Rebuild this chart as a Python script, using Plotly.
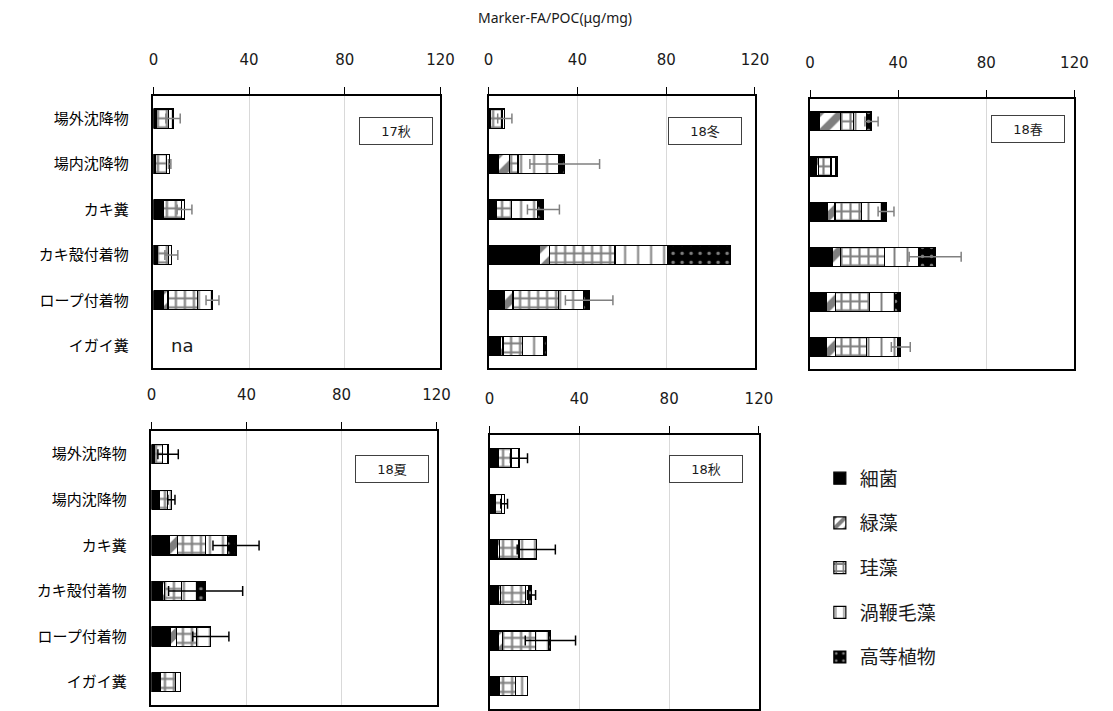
import plotly.graph_objects as go

# Sample categories (rows of each panel, top to bottom)
categories = ["場外沈降物", "場内沈降物", "カキ糞", "カキ殻付着物", "ロープ付着物", "イガイ糞"]
components = ["細菌", "緑藻", "珪藻", "渦鞭毛藻", "高等植物"]
seasons = ["17秋", "18冬", "18春", "18夏", "18秋"]
tick_values = [0, 40, 80, 120]

# Marker fatty acids per POC (µg/mg); None = not analysed
bact_17aut = [1.0, 1.0, 4.0, 1.8, 4.1, None]
green_17aut = [0.2, 0.0, 0.2, 0.0, 2.0, None]
diatom_17aut = [5.0, 4.5, 7.5, 4.5, 12.4, None]
dino_17aut = [2.0, 1.3, 1.3, 1.2, 6.0, None]
plant_17aut = [0.0, 0.0, 0.0, 0.0, 0.2, None]
sd_17aut = [3.0, 0.5, 3.1, 2.7, 2.7, None]

bact_18win = [1.0, 4.6, 3.2, 23.1, 7.0, 5.1]
green_18win = [0.0, 4.9, 0.5, 4.2, 4.0, 1.4]
diatom_18win = [5.0, 3.7, 6.6, 29.6, 20.6, 8.9]
dino_18win = [1.3, 18.4, 11.7, 23.6, 11.1, 9.3]
plant_18win = [0.0, 2.7, 2.7, 28.3, 2.6, 1.3]
sd_18win = [3.2, 15.7, 7.2, None, 10.7, None]

bact_18spr = [4.1, 3.0, 7.9, 10.1, 7.4, 7.4]
green_18spr = [9.7, 1.0, 3.4, 3.7, 4.2, 4.2]
diatom_18spr = [5.9, 5.5, 12.1, 20.0, 15.5, 14.0]
dino_18spr = [5.9, 2.0, 9.2, 15.5, 11.1, 14.1]
plant_18spr = [2.3, 0.8, 1.9, 7.5, 3.0, 1.5]
sd_18spr = [3.0, None, 3.6, 11.8, None, 4.3]

bact_18sum = [1.1, 3.2, 7.7, 4.5, 8.0, 3.2]
green_18sum = [0.0, 0.0, 3.1, 1.0, 2.5, 0.5]
diatom_18sum = [3.5, 3.5, 12.1, 7.3, 8.5, 6.4]
dino_18sum = [2.4, 1.7, 9.2, 6.2, 5.7, 2.0]
plant_18sum = [0.0, 0.0, 3.5, 3.8, 0.3, 0.0]
sd_18sum = [4.3, 1.5, 9.7, 15.6, 7.6, None]

bact_18aut = [3.6, 2.6, 3.6, 4.0, 4.0, 3.6]
green_18aut = [0.5, 0.0, 0.8, 1.0, 1.8, 0.6]
diatom_18aut = [5.4, 2.8, 8.7, 11.1, 14.7, 7.5]
dino_18aut = [3.6, 1.1, 7.7, 1.3, 5.9, 5.1]
plant_18aut = [0.0, 0.0, 0.0, 1.3, 0.7, 0.0]
sd_18aut = [3.8, 1.5, 8.5, 1.8, 11.2, None]

season_data = [
    ([bact_17aut, green_17aut, diatom_17aut, dino_17aut, plant_17aut], sd_17aut),
    ([bact_18win, green_18win, diatom_18win, dino_18win, plant_18win], sd_18win),
    ([bact_18spr, green_18spr, diatom_18spr, dino_18spr, plant_18spr], sd_18spr),
    ([bact_18sum, green_18sum, diatom_18sum, dino_18sum, plant_18sum], sd_18sum),
    ([bact_18aut, green_18aut, diatom_18aut, dino_18aut, plant_18aut], sd_18aut),
]

# Page geometry (pixels)
W, H = 1113, 711
FONT = "DejaVu Sans, Noto Sans CJK JP, sans-serif"
TITLE_FONT = "Noto Sans, Noto Sans CJK JP, sans-serif"


def px(x):
    return x / W


def py(y):
    return 1 - y / H


# Plot boxes: left, top, right, bottom
boxes = [
    (151, 96, 443, 369),
    (492, 96, 763, 369),
    (819, 99, 1088, 370),
    (149, 432, 439, 706),
    (493, 436, 767, 710),
]
label_boxes = [(398, 131), (712, 131), (1041, 129), (394, 470), (713, 470)]
err_colors = ["#808080", "#808080", "#808080", "#000000", "#000000"]

# Fill style per component
styles = {
    "細菌": dict(color="black", pattern=dict(shape="")),
    "緑藻": dict(color="white", pattern=dict(shape="/", fgcolor="black", bgcolor="white",
                                            size=16, solidity=0.5)),
    "珪藻": dict(color="white", pattern=dict(shape="+", fgcolor="black", bgcolor="white",
                                            size=9, solidity=0.42)),
    "渦鞭毛藻": dict(color="white", pattern=dict(shape="|", fgcolor="black", bgcolor="white",
                                              size=13, solidity=0.15)),
    "高等植物": dict(color="black", pattern=dict(shape=".", fgcolor="white", bgcolor="black",
                                              size=9, solidity=0.12)),
}

fig = go.Figure()

for i, (comp_values, sd) in enumerate(season_data):
    n = i + 1
    xa = "x" if n == 1 else f"x{n}"
    ya = "y" if n == 1 else f"y{n}"
    for comp, vals in zip(components, comp_values):
        st = styles[comp]
        fig.add_trace(go.Bar(
            x=vals, y=categories, orientation="h", name=comp,
            legendgroup=comp, showlegend=(i == 0),
            marker=dict(color=st["color"], pattern=st["pattern"],
                        line=dict(color="black", width=1.2)),
            xaxis=xa, yaxis=ya, hoverinfo="skip",
        ))
    # error bars at the stacked total
    ex, ey, ee = [], [], []
    for r, cat in enumerate(categories):
        if sd[r] is None:
            continue
        ex.append(sum(v[r] for v in comp_values))
        ey.append(cat)
        ee.append(sd[r])
    fig.add_trace(go.Scatter(
        x=ex, y=ey, mode="markers", marker=dict(size=1, opacity=0),
        error_x=dict(type="data", array=ee, symmetric=True, color=err_colors[i],
                     thickness=1.5, width=5),
        showlegend=False, xaxis=xa, yaxis=ya, hoverinfo="skip",
    ))

    l, t, r_, b = boxes[i]
    xkey = "xaxis" if n == 1 else f"xaxis{n}"
    ykey = "yaxis" if n == 1 else f"yaxis{n}"
    fig.layout[xkey] = dict(
        domain=[px(l), px(r_)], anchor=ya, side="top", range=[0, 120],
        tickvals=tick_values, ticktext=[str(v) for v in tick_values],
        ticks="outside", ticklen=7, tickcolor="black", tickwidth=1,
        showline=True, linecolor="black", linewidth=2, mirror=True,
        showgrid=True, gridcolor="#d9d9d9", gridwidth=1, zeroline=False,
        tickfont=dict(size=15, color="#1a1a1a", family=FONT),
        ticklabelstandoff=16, fixedrange=True,
    )
    fig.layout[ykey] = dict(
        domain=[py(b), py(t)], anchor=xa, type="category",
        categoryorder="array", categoryarray=categories, autorange="reversed",
        showline=True, linecolor="black", linewidth=1.5, mirror=True,
        ticks="", showgrid=False, showticklabels=(n in (1, 4)),
        tickfont=dict(size=15, color="#000000", family=FONT),
        ticklabelstandoff=20, fixedrange=True,
    )

annotations = [
    dict(text="Marker-FA/POC(μg/mg)", x=px(560), y=py(18), xref="paper", yref="paper",
         xanchor="center", yanchor="middle", showarrow=False,
         font=dict(size=14, color="#1a1a1a", family=TITLE_FONT)),
    dict(text="na", x=12, y="イガイ糞", xref="x", yref="y", showarrow=False,
         xanchor="center", yanchor="middle",
         font=dict(size=18, color="#1a1a1a", family=FONT)),
]
for name, (cx, cy) in zip(seasons, label_boxes):
    annotations.append(dict(
        text=name, x=px(cx), y=py(cy), xref="paper", yref="paper", showarrow=False,
        xanchor="center", yanchor="middle",
        font=dict(size=13, color="#1a1a1a", family=FONT), bgcolor="white",
        bordercolor="#404040", borderwidth=1, borderpad=1, width=70, height=24,
    ))

fig.update_layout(
    width=W, height=H, margin=dict(l=0, r=0, t=0, b=0),
    paper_bgcolor="white", plot_bgcolor="white",
    barmode="stack", bargap=0.58,
    annotations=annotations,
    legend=dict(x=px(829), y=py(460), xanchor="left", yanchor="top",
                traceorder="grouped", tracegroupgap=17, itemwidth=30,
                font=dict(size=19, color="#1a1a1a", family=FONT),
                bgcolor="rgba(0,0,0,0)"),
    font=dict(family=FONT),
)

fig.write_html("out.html")
